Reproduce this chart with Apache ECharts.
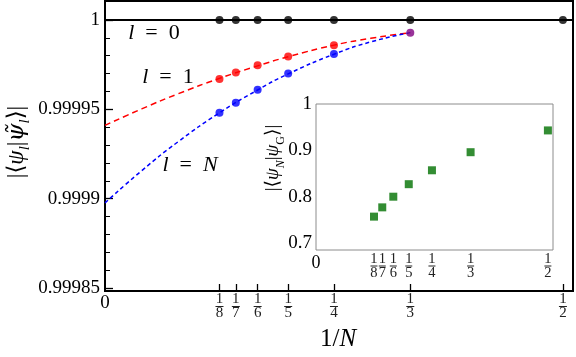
<!DOCTYPE html>
<html>
<head>
<meta charset="utf-8">
<script src="https://cdn.jsdelivr.net/npm/echarts@6/dist/echarts.min.js"></script>
<style>
html,body{margin:0;padding:0;background:#fff;}
#c{width:576px;height:357px;}
</style>
</head>
<body>
<div id="c"></div>
<script>
// ---- data ----
const N_VALUES = [8, 7, 6, 5, 4, 3, 2];
const L0_OVERLAP = [1, 1, 1, 1, 1, 1, 1];
const L_N = [8, 7, 6, 5, 4];
const L1_OVERLAP = [0.999967, 0.9999706, 0.9999747, 0.9999795, 0.9999859];
const LN_OVERLAP = [0.999948, 0.9999536, 0.999961, 0.99997, 0.999981];
const SHARED_N = [3];
const SHARED_OVERLAP = [0.9999929];
const FIT_X = [0, 0.04, 0.08, 0.125, 0.1667, 0.2, 0.25, 0.29, 0.3333];
const FIT_L1 = [0.999941, 0.9999502, 0.9999587, 0.9999673, 0.9999743, 0.9999794, 0.9999859, 0.9999897, 0.9999929];
const FIT_LN = [0.9998976, 0.9999156, 0.9999319, 0.999948, 0.9999608, 0.9999698, 0.9999808, 0.9999877, 0.9999929];
const INSET_OVERLAP = [0.757, 0.777, 0.800, 0.827, 0.857, 0.896, 0.943];
const MAIN_Y_TICKS = [0.99985, 0.9999, 0.99995, 1];
const MAIN_Y_LABELS = ['0.99985', '0.9999', '0.99995', '1'];
const MAIN_Y_MINOR = [0.99986, 0.99987, 0.99988, 0.99989, 0.99991, 0.99992, 0.99993, 0.99994, 0.99996, 0.99997, 0.99998, 0.99999];
const INSET_Y_TICKS = [0.7, 0.8, 0.9, 1];
const INSET_Y_LABELS = ['0.7', '0.8', '0.9', '1'];
const INSET_Y_MINOR = [0.72, 0.74, 0.76, 0.78, 0.82, 0.84, 0.86, 0.88, 0.92, 0.94, 0.96, 0.98];
const X_TICK_N = [8, 7, 6, 5, 4, 3, 2];

// ---- helpers ----
const inv = n => 1 / n;
const xTicks = X_TICK_N.map(inv);
const xLabels = [0].concat(xTicks);
const SERIF = '"Liberation Serif","DejaVu Serif",serif';

function fracFormatter(v) {
  if (Math.abs(v) < 1e-9) return '{z|0}';
  const n = Math.round(1 / v);
  return '{n|1}\n{b| }\n{d|' + n + '}';
}
function fracRich(fs, lh, bw, color, zs) {
  return {
    z: {fontSize: zs, fontFamily: SERIF, color: '#000', lineHeight: zs},
    n: {fontSize: fs, fontFamily: SERIF, color: color, lineHeight: lh},
    b: {fontSize: 1, width: bw, height: 1, lineHeight: 3, backgroundColor: color},
    d: {fontSize: fs, fontFamily: SERIF, color: color, lineHeight: lh}
  };
}
function mapLabels(vals, labels) {
  return function (v) {
    for (let i = 0; i < vals.length; i++) if (Math.abs(v - vals[i]) < 1e-9) return labels[i];
    return '';
  };
}
function pairs(xs, ys) { return xs.map((x, i) => [x, ys[i]]); }

const chart = echarts.init(document.getElementById('c'), null, {renderer: 'canvas'});

const mathRich = (fs, color) => ({
  m: {fontSize: fs, fontFamily: SERIF, color: color, lineHeight: fs + 8, verticalAlign: 'middle'},
  i: {fontSize: fs, fontFamily: SERIF, fontStyle: 'italic', color: color, lineHeight: fs + 8, verticalAlign: 'middle'},
  t: {fontSize: fs, fontFamily: '"DejaVu Serif",serif', fontStyle: 'italic', color: color, lineHeight: fs + 8, verticalAlign: 'middle'},
  s: {fontSize: Math.round(fs * 0.65), fontFamily: SERIF, fontStyle: 'italic', color: color, lineHeight: fs + 8, verticalAlign: 'bottom'},
  su: {fontSize: Math.round(fs * 0.65), fontFamily: SERIF, color: color, lineHeight: fs + 8, verticalAlign: 'bottom'}
});

const option = {
  animation: false,
  backgroundColor: '#fff',
  grid: [
    {left: 105, top: 1, right: 3, bottom: 66, show: true, borderColor: '#000', borderWidth: 2, backgroundColor: 'transparent'},
    {left: 316, top: 104, right: 23, bottom: 107, show: true, borderColor: '#8c8c8c', borderWidth: 1, backgroundColor: '#fff', z: 5}
  ],
  xAxis: [
    {
      gridIndex: 0, type: 'value', min: 0, max: 0.511,
      axisLine: {show: false},
      splitLine: {show: false},
      axisTick: {show: true, inside: true, length: 7, customValues: xTicks, lineStyle: {color: '#000', width: 1.3}},
      axisLabel: {customValues: xLabels, formatter: fracFormatter, margin: 3, rich: fracRich(15, 11, 8, '#222', 19)}
    },
    {
      gridIndex: 1, type: 'value', min: 0, max: 0.511,
      axisLine: {show: false},
      splitLine: {show: false},
      axisTick: {show: true, inside: true, length: 4, customValues: xTicks, lineStyle: {color: '#8c8c8c', width: 1}},
      axisLabel: {customValues: xLabels, formatter: fracFormatter, margin: 4, rich: fracRich(14.5, 10.5, 7, '#222', 18)}
    }
  ],
  yAxis: [
    {
      gridIndex: 0, type: 'value', min: 0.9998483, max: 1.0000106,
      axisLine: {show: false}, splitLine: {show: false},
      axisTick: {show: true, inside: true, length: 8, customValues: MAIN_Y_TICKS, lineStyle: {color: '#000', width: 1.3}},
      axisLabel: {customValues: MAIN_Y_TICKS, formatter: mapLabels(MAIN_Y_TICKS, MAIN_Y_LABELS), margin: 5,
        fontFamily: SERIF, fontSize: 19, color: '#000'}
    },
    {
      gridIndex: 0, type: 'value', min: 0.9998483, max: 1.0000106, position: 'left', offset: 0,
      axisLine: {show: false}, splitLine: {show: false},
      axisTick: {show: true, inside: true, length: 5, customValues: MAIN_Y_MINOR, lineStyle: {color: '#000', width: 1}},
      axisLabel: {show: false}
    },
    {
      gridIndex: 1, type: 'value', min: 0.685, max: 1.0,
      axisLine: {show: false}, splitLine: {show: false},
      axisTick: {show: true, inside: true, length: 5, customValues: INSET_Y_TICKS, lineStyle: {color: '#8c8c8c', width: 1}},
      axisLabel: {customValues: INSET_Y_TICKS, formatter: mapLabels(INSET_Y_TICKS, INSET_Y_LABELS), margin: 4,
        fontFamily: SERIF, fontSize: 19, color: '#000'}
    },
    {
      gridIndex: 1, type: 'value', min: 0.685, max: 1.0, position: 'left', offset: 0,
      axisLine: {show: false}, splitLine: {show: false},
      axisTick: {show: true, inside: true, length: 3, customValues: INSET_Y_MINOR, lineStyle: {color: '#8c8c8c', width: 1}},
      axisLabel: {show: false}
    }
  ],
  series: [
    {
      name: 'fit l=1', type: 'line', xAxisIndex: 0, yAxisIndex: 0, smooth: true, showSymbol: false, z: 2,
      data: pairs(FIT_X, FIT_L1),
      lineStyle: {color: '#ff0000', width: 1.5, type: [6, 4]}
    },
    {
      name: 'fit l=N', type: 'line', xAxisIndex: 0, yAxisIndex: 0, smooth: true, showSymbol: false, z: 2,
      data: pairs(FIT_X, FIT_LN),
      lineStyle: {color: '#0000ff', width: 1.5, type: [4, 3]}
    },
    {
      name: 'l=0', type: 'scatter', xAxisIndex: 0, yAxisIndex: 0, symbolSize: 8, z: 4,
      data: pairs(N_VALUES.map(inv), L0_OVERLAP),
      itemStyle: {color: '#000'},
      markLine: {silent: true, symbol: 'none', label: {show: false},
        lineStyle: {color: '#000', width: 2, type: 'solid'}, data: [{yAxis: 1}]}
    },
    {
      name: 'l=1', type: 'scatter', xAxisIndex: 0, yAxisIndex: 0, symbolSize: 8, z: 4,
      data: pairs(L_N.map(inv), L1_OVERLAP), itemStyle: {color: '#ff0000'}
    },
    {
      name: 'l=N', type: 'scatter', xAxisIndex: 0, yAxisIndex: 0, symbolSize: 8, z: 4,
      data: pairs(L_N.map(inv), LN_OVERLAP), itemStyle: {color: '#0000ff'}
    },
    {
      name: 'N=3', type: 'scatter', xAxisIndex: 0, yAxisIndex: 0, symbolSize: 8, z: 4,
      data: pairs(SHARED_N.map(inv), SHARED_OVERLAP), itemStyle: {color: '#800080'}
    },
    {
      name: 'inset', type: 'scatter', xAxisIndex: 1, yAxisIndex: 2, symbol: 'rect', symbolSize: 8, z: 6,
      data: pairs(N_VALUES.map(inv), INSET_OVERLAP),
      itemStyle: {color: '#007000'}
    }
  ],
  graphic: [
    {type: 'text', x: 17, y: 142, rotation: Math.PI / 2, z: 10,
      style: {text: '{m||⟨}{i|ψ}{s|l}{m||}{t|ψ̃}{s|l}{m|⟩|}', rich: mathRich(23, '#222'), align: 'center', verticalAlign: 'middle'}},
    {type: 'text', x: 273, y: 158, rotation: Math.PI / 2, z: 10,
      style: {text: '{m||⟨}{i|ψ}{s|N}{m||}{i|ψ}{su|G}{m|⟩|}', rich: mathRich(19, '#222'), align: 'center', verticalAlign: 'middle'}},
    {type: 'text', x: 338, y: 339, z: 10,
      style: {text: '{m|1/}{i|N}', rich: mathRich(25, '#000'), align: 'center', verticalAlign: 'middle'}},
    {type: 'text', x: 154, y: 33, z: 10,
      style: {text: '{i|l}{m|\u2002=\u20020}', rich: mathRich(22, '#111'), align: 'center', verticalAlign: 'middle'}},
    {type: 'text', x: 168, y: 77, z: 10,
      style: {text: '{i|l}{m|\u2002=\u20021}', rich: mathRich(22, '#ff2a2a'), align: 'center', verticalAlign: 'middle'}},
    {type: 'text', x: 190, y: 165, z: 10,
      style: {text: '{i|l}{m|\u2002=\u2002}{i|N}', rich: mathRich(22, '#2a2aff'), align: 'center', verticalAlign: 'middle'}}
  ]
};
chart.setOption(option);
</script>
</body>
</html>
